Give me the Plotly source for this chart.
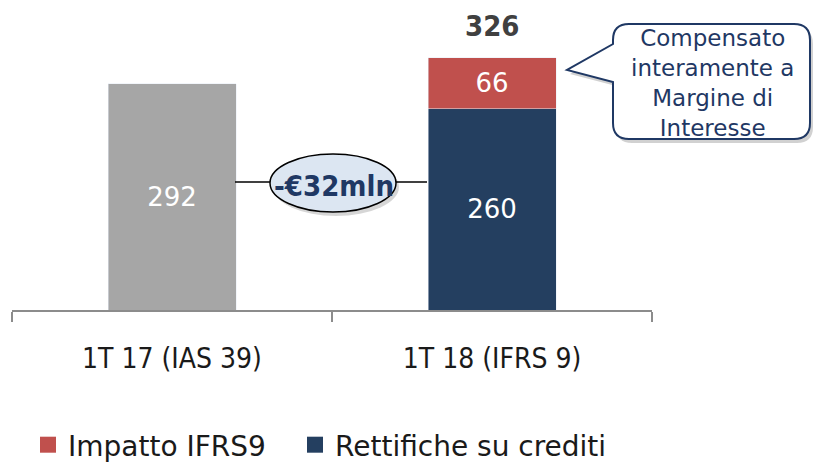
import plotly.graph_objects as go

categories = ["1T 17 (IAS 39)", "1T 18 (IFRS 9)"]
ias39_values = [292, None]
rettifiche_values = [None, 260]
impatto_values = [None, 66]
totals = [None, 326]
delta_label = "-€32mln"
callout_text = "Compensato<br>interamente a<br>Margine di<br>Interesse"

OFF = 8  # page body margin
W, H = 821, 463
L = 12 - OFF
R = W - (652 - OFF)
T = 0
B = H - (310 - OFF)
PW, PH = W - L - R, H - T - B

def px(x):
    return (x - OFF - L) / PW

def py(y):
    return (H - B - (y - OFF)) / PH

FONT_C = "DejaVu Sans Condensed, DejaVu Sans, sans-serif"
FONT = "DejaVu Sans, sans-serif"
GRAY = "#a6a6a6"
NAVY = "#243f60"
RED = "#c0504d"
DARK = "#1f3864"

fig = go.Figure()
fig.add_trace(go.Bar(x=categories, y=ias39_values, marker_color=GRAY, showlegend=False,
                     text=[str(v) if v else "" for v in ias39_values], name="IAS 39"))
fig.add_trace(go.Bar(x=categories, y=rettifiche_values, marker_color=NAVY, name="Rettifiche su crediti",
                     showlegend=False, text=[str(v) if v else "" for v in rettifiche_values]))
fig.add_trace(go.Bar(x=categories, y=impatto_values, marker_color=RED, name="Impatto IFRS9",
                     showlegend=False, text=[str(v) if v else "" for v in impatto_values]))
fig.update_traces(textposition="inside", insidetextanchor="middle",
                  textfont=dict(color="white", size=26, family=FONT), width=0.4,
                  hoverinfo="skip")

# legend entries (square swatches)
for name, col, lg in [("Impatto IFRS9", RED, "legend"), ("Rettifiche su crediti", NAVY, "legend2")]:
    fig.add_trace(go.Scatter(x=[None], y=[None], mode="markers", name=name, legend=lg,
                             marker=dict(symbol="square", size=17, color=col), hoverinfo="skip"))

for c, t in zip(categories, totals):
    if t:
        fig.add_annotation(x=c, y=t, text=f"<b>{t}</b>", showarrow=False, yanchor="bottom",
                           xanchor="center", yshift=13,
                           font=dict(size=29, color="#404040", family=FONT_C))

shapes = []
shapes.append(dict(type="line", xref="paper", yref="paper", x0=px(235), x1=px(272), y0=py(182), y1=py(182),
                   line=dict(color="black", width=1.5)))
shapes.append(dict(type="line", xref="paper", yref="paper", x0=px(394), x1=px(427), y0=py(182), y1=py(182),
                   line=dict(color="black", width=1.5)))
shapes.append(dict(type="circle", xref="paper", yref="paper", x0=px(273), x1=px(399), y0=py(158), y1=py(216),
                   fillcolor="rgba(0,0,0,0.16)", line=dict(width=0)))
shapes.append(dict(type="circle", xref="paper", yref="paper", x0=px(270), x1=px(396), y0=py(154), y1=py(212),
                   fillcolor="#dce6f2", line=dict(color="black", width=1.5)))

def callout_path(dx=0, dy=0):
    x0, x1, y0, y1, r = 613 + dx, 810 + dx, 24 + dy, 139 + dy, 16
    tipx, tipy = 567 + dx, 70 + dy
    pts = [
        ("M", x0 + r, y0), ("L", x1 - r, y0), ("Q", x1, y0, x1, y0 + r), ("L", x1, y1 - r),
        ("Q", x1, y1, x1 - r, y1), ("L", x0 + r, y1), ("Q", x0, y1, x0, y1 - r),
        ("L", x0, 82 + dy), ("L", tipx, tipy), ("L", x0, 44 + dy), ("L", x0, y0 + r),
        ("Q", x0, y0, x0 + r, y0),
    ]
    s = ""
    for p in pts:
        coords = p[1:]
        parts = [f"{px(coords[i]):.5f},{py(coords[i+1]):.5f}" for i in range(0, len(coords), 2)]
        s += p[0] + " " + " ".join(parts) + " "
    return s + "Z"

shapes.append(dict(type="path", xref="paper", yref="paper", path=callout_path(3, 4),
                   fillcolor="rgba(0,0,0,0.18)", line=dict(width=0)))
shapes.append(dict(type="path", xref="paper", yref="paper", path=callout_path(),
                   fillcolor="white", line=dict(color=DARK, width=2)))
fig.update_layout(shapes=shapes)

fig.add_annotation(xref="paper", yref="paper", x=px(334), y=py(186), text=f"<b>{delta_label}</b>",
                   showarrow=False, xanchor="center", yanchor="middle",
                   font=dict(size=29, color=DARK, family=FONT_C))
fig.add_annotation(xref="paper", yref="paper", x=px(712), y=py(83), text=callout_text,
                   showarrow=False, align="center", xanchor="center", yanchor="middle",
                   font=dict(size=23, color=DARK, family=FONT))

legend_common = dict(orientation="h", yanchor="middle", xanchor="left",
                     font=dict(size=28, family=FONT), itemwidth=30, bgcolor="rgba(0,0,0,0)")
fig.update_layout(
    width=W, height=H, margin=dict(l=L, r=R, t=T, b=B),
    barmode="stack", bargap=0.6, plot_bgcolor="white", paper_bgcolor="white",
    font=dict(family=FONT, size=26, color="#1a1a1a"),
    xaxis=dict(showline=True, linecolor="#8c8c8c", linewidth=1.5, ticks="outside", tickson="boundaries",
               ticklen=10, tickcolor="#8c8c8c", tickwidth=1.5,
               tickfont=dict(size=28, color="#1a1a1a", family=FONT_C),
               ticklabelstandoff=23),
    yaxis=dict(range=[0, PH / 0.774], visible=False),
    legend=dict(x=px(28), y=py(445), **legend_common),
    legend2=dict(x=px(295), y=py(445), **legend_common),
)
fig.write_html("out.html")
